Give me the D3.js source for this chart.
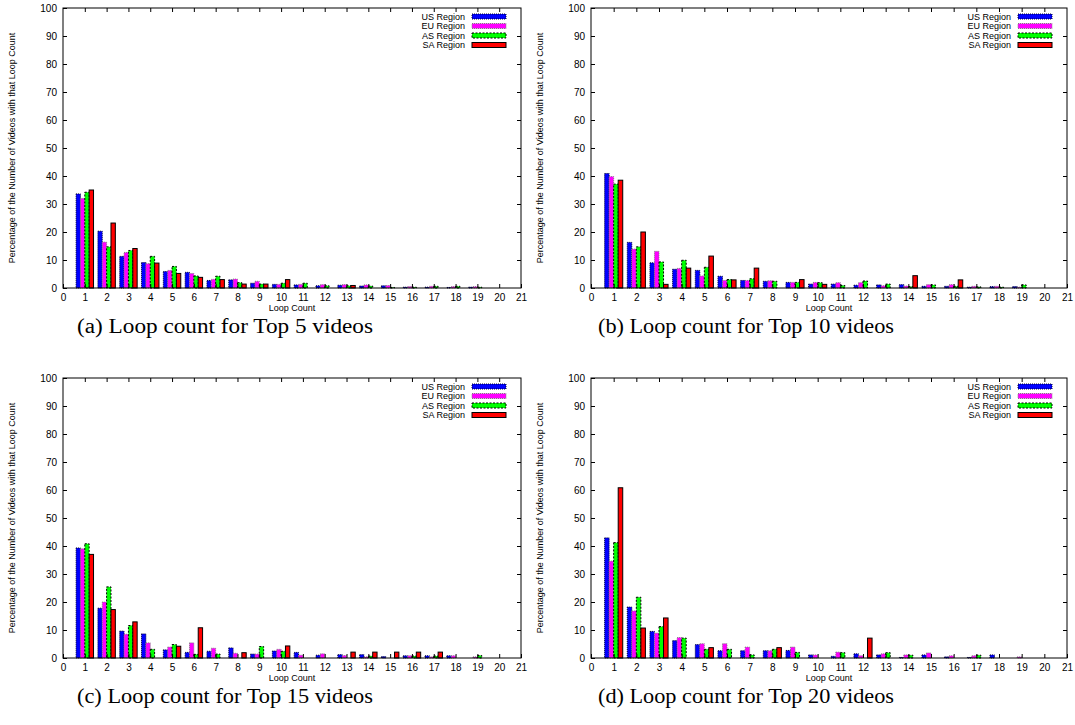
<!DOCTYPE html>
<html>
<head>
<meta charset="utf-8">
<script src="https://cdn.jsdelivr.net/npm/d3@7"></script>
<style>
  body { margin: 0; background: #fff; }
  svg { display: block; }
</style>
</head>
<body>
<svg id="fig" width="1075" height="725"></svg>
<script>
// Loop count categories and axis ticks
const loopCounts = d3.range(1, 21);
const regionNames = ["US Region", "EU Region", "AS Region", "SA Region"];
const xTickValues = d3.range(0, 22);
const yTickValues = d3.range(0, 101, 10);

// Percentage of videos per loop count, Top 5 videos
const top5US = [33.6, 20.3, 11.3, 9.1, 5.9, 5.6, 2.7, 2.9, 1.7, 1.3, 1.1, 0.8, 1.0, 0.7, 0.8, 0.3, 0.3, 0.2, 0.3, 0];
const top5EU = [32.0, 16.4, 12.7, 8.7, 6.3, 5.2, 3.1, 3.2, 2.4, 1.3, 1.3, 1.2, 1.2, 1.1, 0.9, 0.5, 0.6, 0.5, 0.5, 0];
const top5AS = [34.2, 14.7, 13.4, 11.3, 7.7, 4.3, 4.2, 1.9, 1.4, 1.7, 1.7, 0.8, 0.8, 0.7, 0.2, 0.3, 0.6, 0.6, 0.3, 0];
const top5SA = [35.0, 23.2, 14.1, 8.9, 5.2, 3.8, 3.0, 1.4, 1.4, 3.0, 0, 0, 0.9, 0, 0, 0, 0, 0, 0, 0];

// Top 10 videos
const top10US = [40.9, 16.3, 9.0, 6.7, 6.3, 4.2, 2.7, 2.4, 2.0, 1.4, 1.4, 1.0, 1.1, 1.2, 0.6, 0.6, 0.3, 0.5, 0.5, 0];
const top10EU = [39.8, 13.9, 13.1, 7.0, 4.3, 2.7, 2.7, 2.6, 2.0, 2.0, 1.9, 1.9, 0.8, 0.7, 1.2, 1.2, 0.6, 0.6, 0.3, 0];
const top10AS = [37.1, 14.7, 9.3, 9.9, 7.4, 3.0, 3.3, 2.4, 2.0, 1.9, 0.9, 2.5, 1.4, 0.5, 1.1, 0.6, 0.4, 0.3, 1.1, 0];
const top10SA = [38.5, 20.0, 1.3, 7.1, 11.4, 2.9, 7.1, 0, 3.0, 1.3, 0, 0, 0, 4.4, 0, 2.9, 0, 0, 0, 0];

// Top 15 videos
const top15US = [39.3, 17.8, 9.6, 8.6, 2.9, 2.0, 2.4, 3.6, 1.4, 2.5, 2.0, 1.0, 1.2, 1.2, 0.5, 0.8, 0.8, 0.8, 0, 0];
const top15EU = [39.0, 20.0, 8.5, 5.4, 3.9, 5.4, 3.5, 1.7, 1.4, 3.1, 1.0, 1.5, 0.9, 0.4, 0, 0.8, 0.4, 0.8, 0.4, 0];
const top15AS = [40.8, 25.4, 11.6, 3.1, 4.8, 1.3, 1.4, 0, 4.1, 2.4, 0, 0, 0, 0.7, 0, 0.7, 0.7, 0, 0.9, 0];
const top15SA = [37.0, 17.3, 12.9, 0, 4.2, 10.8, 0, 1.9, 0, 4.3, 0, 0, 2.1, 2.1, 2.1, 2.1, 2.1, 0, 0, 0];

// Top 20 videos
const top20US = [42.9, 18.2, 9.5, 6.2, 4.8, 2.6, 2.6, 2.6, 2.7, 1.1, 0.6, 1.5, 1.1, 0.2, 1.1, 0.4, 0.2, 1.1, 0, 0];
const top20EU = [34.6, 16.8, 8.9, 7.3, 5.1, 5.1, 3.9, 2.6, 3.9, 1.1, 2.1, 0.8, 1.5, 1.1, 1.8, 0.8, 0.8, 0, 0.4, 0];
const top20AS = [41.2, 21.7, 11.2, 7.1, 3.1, 3.1, 1.1, 3.1, 2.0, 0, 1.9, 0, 1.9, 1.0, 0, 0, 1.0, 0, 0, 0];
const top20SA = [60.8, 10.7, 14.3, 0, 3.7, 0, 0, 3.7, 0, 0, 0, 7.1, 0, 0, 0, 0, 0, 0, 0, 0];

// Fill and border style of each region's boxes
const regionStyles = [
  { fill: "#0000ff", stroke: "#000033", dash: "1,1" },
  { fill: "#ff00ff", stroke: "#808080", dash: "1,1" },
  { fill: "#00ff00", stroke: "#000000", dash: "2,1.5" },
  { fill: "#ff0000", stroke: "#000000", dash: null }
];

const panels = [
  { caption: "(a) Loop count for Top 5 videos", series: [top5US, top5EU, top5AS, top5SA],
    left: 63, right: 521, top: 8, bottom: 288, capX: 77, capY: 333 },
  { caption: "(b) Loop count for Top 10 videos", series: [top10US, top10EU, top10AS, top10SA],
    left: 591, right: 1067, top: 8, bottom: 288, capX: 598, capY: 333 },
  { caption: "(c) Loop count for Top 15 videos", series: [top15US, top15EU, top15AS, top15SA],
    left: 63, right: 521, top: 378, bottom: 658, capX: 77, capY: 703 },
  { caption: "(d) Loop count for Top 20 videos", series: [top20US, top20EU, top20AS, top20SA],
    left: 591, right: 1067, top: 378, bottom: 658, capX: 598, capY: 703 }
];

const svg = d3.select("#fig");
const sans = "'Liberation Sans', Arial, Helvetica, sans-serif";
const serif = "'Liberation Serif', 'Times New Roman', serif";

function styleBox(sel, k) {
  const s = regionStyles[k];
  sel.attr("fill", s.fill)
     .attr("stroke", s.stroke)
     .attr("stroke-width", 1)
     .attr("stroke-dasharray", s.dash);
}

panels.forEach(p => {
  const x = d3.scaleLinear().domain([0, 21]).range([p.left, p.right]);
  const y = d3.scaleLinear().domain([0, 100]).range([p.bottom, p.top]);
  const g = svg.append("g");
  const boxW = x(0.2) - x(0);

  // Clustered boxes: four regions side by side around each loop count
  p.series.forEach((vals, k) => {
    g.append("g").selectAll("rect")
      .data(loopCounts.map((c, i) => ({ c, v: vals[i] })).filter(d => d.v > 0))
      .join("rect")
      .attr("x", d => x(d.c - 0.4 + k * 0.2))
      .attr("y", d => y(d.v))
      .attr("width", boxW)
      .attr("height", d => y(0) - y(d.v))
      .call(styleBox, k);
  });

  // Axes with inward ticks, mirrored on the top and right edges
  const fontAxis = sel => sel.selectAll("text")
    .attr("font-family", sans).attr("font-size", 10).attr("fill", "#000");

  g.append("g").attr("transform", `translate(0,${p.bottom})`)
    .call(d3.axisBottom(x).tickValues(xTickValues).tickSizeInner(-4).tickSizeOuter(0).tickPadding(6))
    .call(a => a.select(".domain").remove()).call(fontAxis);
  g.append("g").attr("transform", `translate(0,${p.top})`)
    .call(d3.axisTop(x).tickValues(xTickValues.slice(1, -1)).tickSizeInner(-4).tickSizeOuter(0).tickFormat(""))
    .call(a => a.select(".domain").remove());
  g.append("g").attr("transform", `translate(${p.left},0)`)
    .call(d3.axisLeft(y).tickValues(yTickValues).tickSizeInner(-4).tickSizeOuter(0).tickPadding(6))
    .call(a => a.select(".domain").remove()).call(fontAxis);
  g.append("g").attr("transform", `translate(${p.right},0)`)
    .call(d3.axisRight(y).tickValues(yTickValues.slice(1, -1)).tickSizeInner(-4).tickSizeOuter(0).tickFormat(""))
    .call(a => a.select(".domain").remove());

  g.append("rect")
    .attr("x", p.left).attr("y", p.top)
    .attr("width", p.right - p.left).attr("height", p.bottom - p.top)
    .attr("fill", "none").attr("stroke", "#000").attr("stroke-width", 1);

  // Axis titles
  g.append("text")
    .attr("transform", `translate(${p.left - 51},${(p.top + p.bottom) / 2}) rotate(-90)`)
    .attr("text-anchor", "middle").attr("dy", "0.35em")
    .attr("font-family", sans).attr("font-size", 9)
    .text("Percentage of the Number of Videos with that Loop Count");
  g.append("text")
    .attr("x", (p.left + p.right) / 2).attr("y", p.bottom + 23)
    .attr("text-anchor", "middle")
    .attr("font-family", sans).attr("font-size", 9)
    .text("Loop Count");

  // Legend in the upper right corner
  const sw = 34, swRight = p.right - 15;
  regionNames.forEach((name, k) => {
    const ry = p.top + 8.5 + k * 9.5;
    g.append("text")
      .attr("x", swRight - sw - 7).attr("y", ry).attr("dy", "0.35em")
      .attr("text-anchor", "end")
      .attr("font-family", sans).attr("font-size", 9)
      .text(name);
    g.append("rect")
      .attr("x", swRight - sw).attr("y", ry - 2.5)
      .attr("width", sw).attr("height", 5)
      .call(styleBox, k);
  });

  // Sub-figure caption
  g.append("text")
    .attr("x", p.capX).attr("y", p.capY)
    .attr("font-family", serif).attr("font-size", 20)
    .attr("textLength", 296).attr("lengthAdjust", "spacingAndGlyphs")
    .text(p.caption);
});
</script>
</body>
</html>
